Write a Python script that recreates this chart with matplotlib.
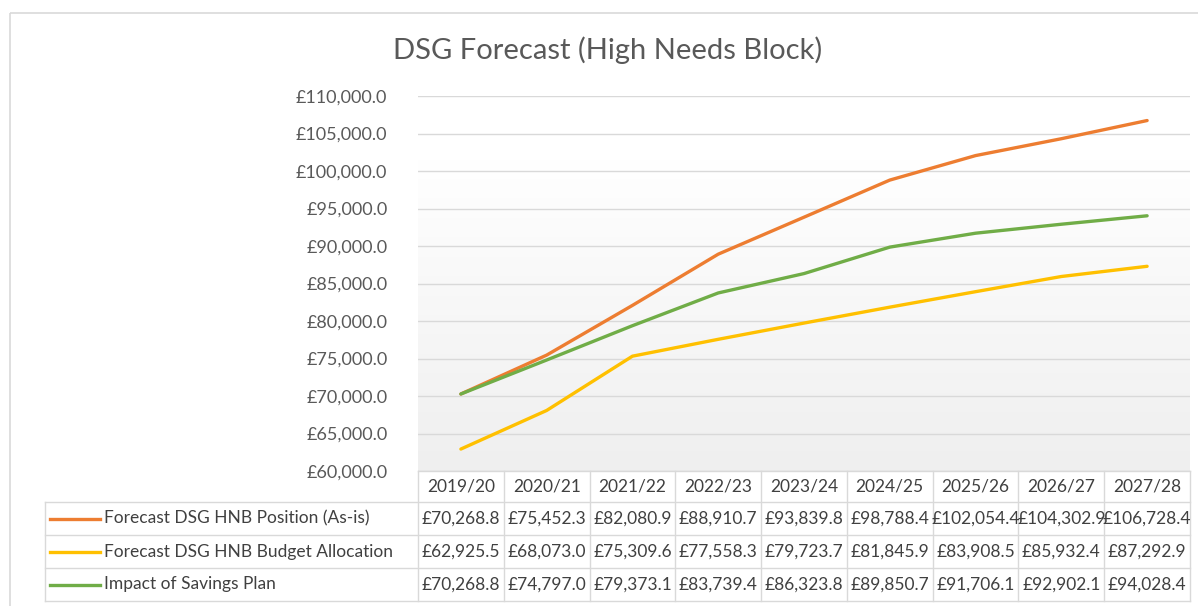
import matplotlib.pyplot as plt
import numpy as np
from matplotlib.lines import Line2D
from matplotlib.patches import Rectangle

plt.rcParams['font.family'] = ['Lato', 'DejaVu Sans']

categories = ["2019/20", "2020/21", "2021/22", "2022/23", "2023/24",
              "2024/25", "2025/26", "2026/27", "2027/28"]
as_is = [70268.8, 75452.3, 82080.9, 88910.7, 93839.8, 98788.4, 102054.4, 104302.9, 106728.4]
budget = [62925.5, 68073.0, 75309.6, 77558.3, 79723.7, 81845.9, 83908.5, 85932.4, 87292.9]
savings = [70268.8, 74797.0, 79373.1, 83739.4, 86323.8, 89850.7, 91706.1, 92902.1, 94028.4]

series = [
    ("Forecast DSG HNB Position (As-is)", as_is, "#ED7D31"),
    ("Forecast DSG HNB Budget Allocation", budget, "#FFC000"),
    ("Impact of Savings Plan", savings, "#70AD47"),
]

W, H = 1198, 606
fig = plt.figure(figsize=(W / 100, H / 100), dpi=100)

# pixel layout of the plot area
px_l, px_r, px_t, px_b = 418, 1190, 96, 471
ax = fig.add_axes([px_l / W, 1 - px_b / H, (px_r - px_l) / W, (px_b - px_t) / H])
ax.set_xlim(-0.5, len(categories) - 0.5)
ax.set_ylim(60000, 110000)

# soft gradient in the lower part of the plot area
grad = np.linspace(0, 1, 256).reshape(-1, 1)
ax.imshow(grad, extent=(-0.5, len(categories) - 0.5, 60000, 101500), aspect="auto",
          cmap=plt.matplotlib.colors.LinearSegmentedColormap.from_list("g", ["#efefef", "#ffffff"]),
          origin="lower", zorder=0)

ax.set_yticks(np.arange(60000, 110001, 5000))
ax.yaxis.grid(True, color="#d9d9d9", lw=1)
ax.set_axisbelow(True)
ax.set_yticklabels([f"£{v:,.1f}" for v in ax.get_yticks()], color="#595959", fontsize=13)
ax.tick_params(axis="y", length=0, pad=22)
ax.set_xticks([])
for s in ax.spines.values():
    s.set_visible(False)

x = np.arange(len(categories))
for name, vals, col in series:
    ax.plot(x, vals, color=col, lw=2.4, solid_capstyle="round", zorder=3)

# overlay in pixel coords for title, table and border
ov = fig.add_axes([0, 0, 1, 1], zorder=-1)
ov.set_xlim(0, W)
ov.set_ylim(H, 0)
ov.axis("off")
ov.add_patch(Rectangle((10, 13), W, H, fill=False, ec="#d9d9d9", lw=1.2))
ov.text(608, 50, "DSG Forecast (High Needs Block)", ha="center", va="center",
        fontsize=21, color="#595959")

tab = fig.add_axes([0, 0, 1, 1])
tab.set_xlim(0, W)
tab.set_ylim(H, 0)
tab.axis("off")

gc = "#d9d9d9"
cw = (px_r - px_l) / len(categories)
rows_y = [471, 502, 535, 568, 601]
lab_l = 45
fs = 12.5

# header row
tab.plot([px_l, px_r], [rows_y[0], rows_y[0]], color=gc, lw=1)
for i, c in enumerate(categories):
    tab.text(px_l + (i + 0.5) * cw, (rows_y[0] + rows_y[1]) / 2, c, ha="center",
             va="center", fontsize=fs, color="#404040")
for r in range(1, 5):
    tab.plot([lab_l, px_r], [rows_y[r], rows_y[r]], color=gc, lw=1)
for i in range(len(categories) + 1):
    tab.plot([px_l + i * cw] * 2, [rows_y[0], rows_y[4]], color=gc, lw=1)
tab.plot([lab_l, lab_l], [rows_y[1], rows_y[4]], color=gc, lw=1)

for r, (name, vals, col) in enumerate(series):
    yc = (rows_y[r + 1] + rows_y[r + 2]) / 2
    tab.add_line(Line2D([50, 100], [yc, yc], color=col, lw=2.4))
    tab.text(104, yc, name, ha="left", va="center", fontsize=fs, color="#404040")
    for i, v in enumerate(vals):
        tab.text(px_l + (i + 0.5) * cw, yc, f"£{v:,.1f}", ha="center", va="center",
                 fontsize=fs, color="#404040")

fig.savefig("out.png", dpi=100)
